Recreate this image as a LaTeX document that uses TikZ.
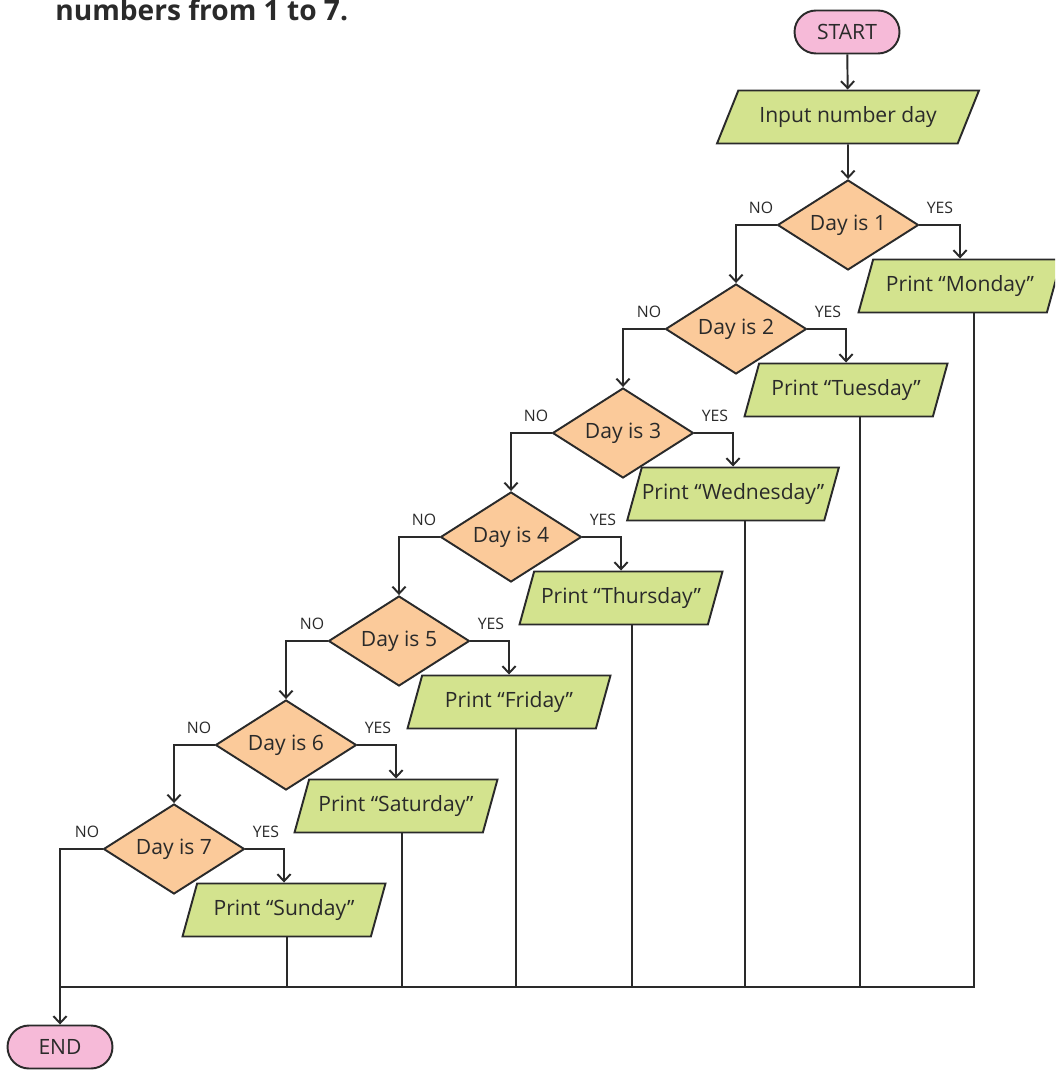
\documentclass[tikz,border=0pt]{standalone}
\usepackage{fontspec}
\setmainfont{Open Sans}
\usepackage{tikz}
\usetikzlibrary{shapes.geometric, arrows.meta}
\definecolor{termpink}{RGB}{246,186,216}
\definecolor{testorange}{RGB}{251,202,154}
\definecolor{iogreen}{RGB}{211,227,142}
\definecolor{inkgray}{RGB}{42,42,42}
\tikzset{
    terminal/.style={rectangle, rounded corners=0.43cm, draw=inkgray, fill=termpink, line width=1.1pt,
        minimum width=2.1cm, minimum height=0.86cm, font=\fontsize{12}{14}\selectfont, text=inkgray},
    decision/.style={diamond, aspect=1.57, draw=inkgray, fill=testorange, line width=1.1pt, inner sep=0pt,
        minimum width=2.82cm, minimum height=1.8cm, font=\fontsize{12}{14}\selectfont, text=inkgray},
    iobox/.style={trapezium, trapezium left angle=66, trapezium right angle=114, trapezium stretches body,
        draw=inkgray, fill=iogreen, line width=1.1pt, inner xsep=0pt, minimum width=4.06cm, minimum height=1.06cm,
        font=\fontsize{12}{14}\selectfont, text=inkgray},
    branchlabel/.style={inner sep=0pt, font=\fontsize{9}{10}\selectfont, text=inkgray},
    flow/.style={draw=inkgray, line width=1.1pt, -{Straight Barb[length=4pt,width=7.5pt]}},
    link/.style={draw=inkgray, line width=1.1pt}
}

\begin{document}
\begin{tikzpicture}[x=0.02cm, y=-0.02cm]
    \useasboundingbox (0,0) rectangle (1055,1070);
    \clip (0,0) rectangle (1055,1070);

    % heading line
    \node[anchor=base west, inner sep=0pt, font=\fontsize{16}{18}\selectfont\bfseries, text=inkgray] (title) at (55,21) {numbers from 1 to 7.};

    % start, input and end
    \node[terminal] (start) at (847,32) {START};
    \node[iobox, trapezium left angle=57, trapezium right angle=123, minimum width=5.24cm] (input) at (848,117) {Input number day};
    \node[terminal] (end) at (60,1047) {END};

    % tests
    \node[decision] (d1) at (848,225) {Day is 1};
    \node[decision] (d2) at (736,329) {Day is 2};
    \node[decision] (d3) at (623,433) {Day is 3};
    \node[decision] (d4) at (511,537) {Day is 4};
    \node[decision] (d5) at (399,641) {Day is 5};
    \node[decision] (d6) at (286,745) {Day is 6};
    \node[decision] (d7) at (174,849) {Day is 7};

    % outputs
    \node[iobox] (p1) at (960,286) {Print “Monday”};
    \node[iobox] (p2) at (846,390) {Print “Tuesday”};
    \node[iobox] (p3) at (733,494) {Print “Wednesday”};
    \node[iobox] (p4) at (621,598) {Print “Thursday”};
    \node[iobox] (p5) at (509,702) {Print “Friday”};
    \node[iobox] (p6) at (396,806) {Print “Saturday”};
    \node[iobox] (p7) at (284,910) {Print “Sunday”};

    % branch labels
    \node[branchlabel, anchor=south east] (no1) at ([shift={(-3,-11)}]d1.west) {NO};
    \node[branchlabel, anchor=south west] (yes1) at ([shift={(7,-11)}]d1.east) {YES};
    \node[branchlabel, anchor=south east] (no2) at ([shift={(-3,-11)}]d2.west) {NO};
    \node[branchlabel, anchor=south west] (yes2) at ([shift={(7,-11)}]d2.east) {YES};
    \node[branchlabel, anchor=south east] (no3) at ([shift={(-3,-11)}]d3.west) {NO};
    \node[branchlabel, anchor=south west] (yes3) at ([shift={(7,-11)}]d3.east) {YES};
    \node[branchlabel, anchor=south east] (no4) at ([shift={(-3,-11)}]d4.west) {NO};
    \node[branchlabel, anchor=south west] (yes4) at ([shift={(7,-11)}]d4.east) {YES};
    \node[branchlabel, anchor=south east] (no5) at ([shift={(-3,-11)}]d5.west) {NO};
    \node[branchlabel, anchor=south west] (yes5) at ([shift={(7,-11)}]d5.east) {YES};
    \node[branchlabel, anchor=south east] (no6) at ([shift={(-3,-11)}]d6.west) {NO};
    \node[branchlabel, anchor=south west] (yes6) at ([shift={(7,-11)}]d6.east) {YES};
    \node[branchlabel, anchor=south east] (no7) at ([shift={(-3,-11)}]d7.west) {NO};
    \node[branchlabel, anchor=south west] (yes7) at ([shift={(7,-11)}]d7.east) {YES};

    % main flow
    \draw[flow] (start) -- (input);
    \draw[flow] (input) -- (d1);

    % NO branches
    \draw[flow] (d1.west) -| (d2.north);
    \draw[flow] (d2.west) -| (d3.north);
    \draw[flow] (d3.west) -| (d4.north);
    \draw[flow] (d4.west) -| (d5.north);
    \draw[flow] (d5.west) -| (d6.north);
    \draw[flow] (d6.west) -| (d7.north);
    \draw[flow] (d7.west) -| (end.north);

    % YES branches
    \draw[flow] (d1.east) -| (p1.north);
    \draw[flow] (d2.east) -| (p2.north);
    \draw[flow] (d3.east) -| (p3.north);
    \draw[flow] (d4.east) -| (p4.north);
    \draw[flow] (d5.east) -| (p5.north);
    \draw[flow] (d6.east) -| (p6.north);
    \draw[flow] (d7.east) -| (p7.north);

    % collecting line
    \coordinate (bus) at (60,987);
    \draw[link] ([xshift=0.28cm]p1.south) |- (bus);
    \draw[link] ([xshift=0.28cm]p2.south) -- ([xshift=0.28cm]p2.south |- bus);
    \draw[link] ([xshift=0.24cm]p3.south) -- ([xshift=0.24cm]p3.south |- bus);
    \draw[link] ([xshift=0.22cm]p4.south) -- ([xshift=0.22cm]p4.south |- bus);
    \draw[link] ([xshift=0.14cm]p5.south) -- ([xshift=0.14cm]p5.south |- bus);
    \draw[link] ([xshift=0.12cm]p6.south) -- ([xshift=0.12cm]p6.south |- bus);
    \draw[link] ([xshift=0.06cm]p7.south) -- ([xshift=0.06cm]p7.south |- bus);
\end{tikzpicture}
\end{document}
